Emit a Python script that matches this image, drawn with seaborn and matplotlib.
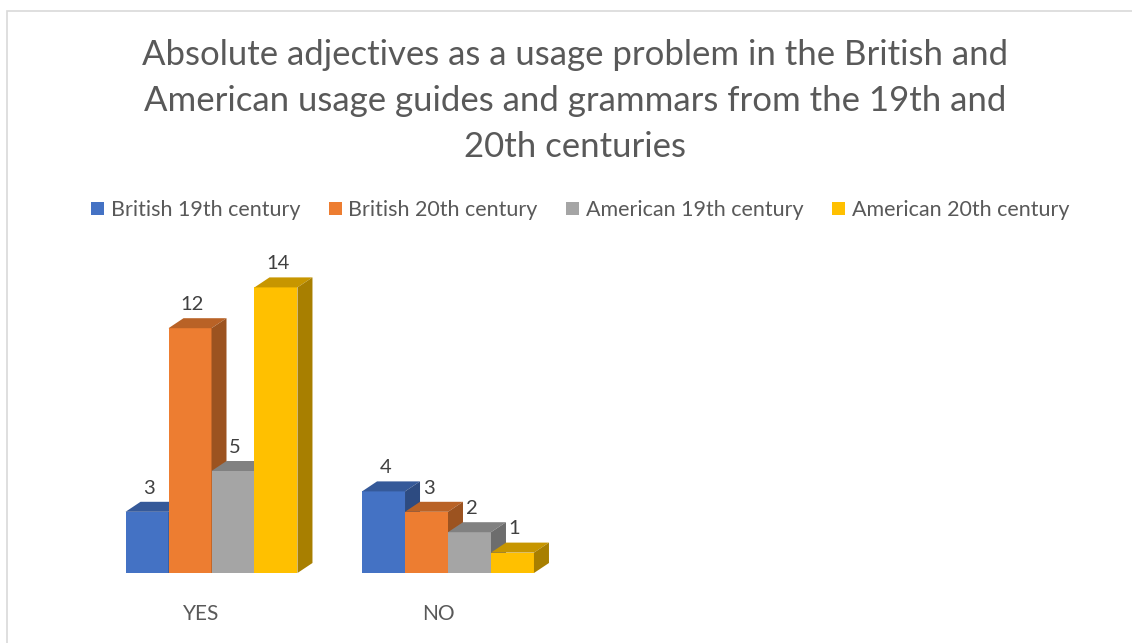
import matplotlib
matplotlib.use("Agg")
import matplotlib.pyplot as plt
import matplotlib.transforms as mtransforms
from matplotlib.patches import Polygon, Rectangle, Patch
import matplotlib.colors as mcolors
import pandas as pd
import seaborn as sns

# ---- data ----
categories = ["YES", "NO"]
series = ["British 19th century", "British 20th century",
          "American 19th century", "American 20th century"]
british_19 = [3, 4]
british_20 = [12, 3]
american_19 = [5, 2]
american_20 = [14, 1]
colors = ["#4472C4", "#ED7D31", "#A5A5A5", "#FFC000"]
title = ("Absolute adjectives as a usage problem in the British and\n"
         "American usage guides and grammars from the 19th and\n"
         "20th centuries")

values = [british_19, british_20, american_19, american_20]
rows = []
for s, vals in zip(series, values):
    for c, v in zip(categories, vals):
        rows.append({"category": c, "series": s, "value": v})
df = pd.DataFrame(rows)

sns.set_theme(style="white")
plt.rcParams["font.family"] = ["Lato", "DejaVu Sans"]
TXT = "#595959"

W, H = 1132, 643
fig = plt.figure(figsize=(W / 100, H / 100), dpi=100)
fig.patch.set_facecolor("white")

# chart frame (partly outside the image)
fig.patches.append(Rectangle((7 / W, -0.1), 1.2, (H - 11) / H + 0.1,
                             transform=fig.transFigure, fill=False,
                             edgecolor="#D9D9D9", linewidth=1.2))

# axes geometry in pixels
px_left, px_right = 80, 1100
px_base = 573
cat0_px, cat_spacing = 211.5, 236.5
unit_px = 20.4
ymax = 15
ax = fig.add_axes([px_left / W, (H - px_base) / H,
                   (px_right - px_left) / W, ymax * unit_px / H])

sns.barplot(data=df, x="category", y="value", hue="series", order=categories,
            hue_order=series, palette=colors, saturation=1, width=0.727,
            ax=ax, legend=False, linewidth=0)
ax.set_xlim((px_left - cat0_px) / cat_spacing, (px_right - cat0_px) / cat_spacing)
ax.set_ylim(0, ymax)

# 3D faces
dx = 15 / cat_spacing
dy = 10 / unit_px
bars = sorted([p for p in ax.patches if isinstance(p, Rectangle)], key=lambda p: p.get_x())
for i, p in enumerate(bars):
    x0, w, h = p.get_x(), p.get_width(), p.get_height()
    x1 = x0 + w
    base = mcolors.to_rgb(p.get_facecolor())
    top_c = tuple(c * 0.78 for c in base)
    side_c = tuple(c * 0.66 for c in base)
    z = 2 + i * 0.1
    p.set_zorder(z)
    p.set_clip_on(False)
    top = Polygon([(x0, h), (x1, h), (x1 + dx, h + dy), (x0 + dx, h + dy)],
                  closed=True, facecolor=top_c, edgecolor="none", zorder=z + 0.01,
                  clip_on=False)
    side = Polygon([(x1, 0), (x1 + dx, dy), (x1 + dx, h + dy), (x1, h)],
                   closed=True, facecolor=side_c, edgecolor="none", zorder=z + 0.01,
                   clip_on=False)
    ax.add_patch(top)
    ax.add_patch(side)
    ax.annotate(f"{h:g}", xy=(x0 + w / 2, h), xytext=(1.5, 17),
                textcoords="offset points", ha="center", va="center",
                fontsize=14.5, color="#404040", annotation_clip=False, zorder=10)

for sp in ax.spines.values():
    sp.set_visible(False)
ax.set_yticks([])
ax.set_xlabel("")
ax.set_ylabel("")
ax.set_xticks(range(len(categories)))
ax.set_xticklabels(categories, fontsize=15, color=TXT)
ax.tick_params(axis="x", length=0, pad=22)
shift = mtransforms.ScaledTranslation(-10 / 100, 0, fig.dpi_scale_trans)
for lab in ax.get_xticklabels():
    lab.set_transform(lab.get_transform() + shift)

fig.text(575 / W, 1 - 101 / H, title, ha="center", va="center", fontsize=25,
         color=TXT, linespacing=1.53)

handles = [Patch(facecolor=c, edgecolor="none") for c in colors]
fs = 15.5
fpx = fs * 100 / 72
fig.legend(handles, series, loc="center", bbox_to_anchor=(580 / W, 1 - 210 / H),
           ncol=4, frameon=False, fontsize=fs, labelcolor=TXT,
           handlelength=13 / fpx, handleheight=13 / fpx,
           handletextpad=7 / fpx, columnspacing=28 / fpx,
           borderpad=0, borderaxespad=0)

fig.savefig("out.png", dpi=100, facecolor="white")
